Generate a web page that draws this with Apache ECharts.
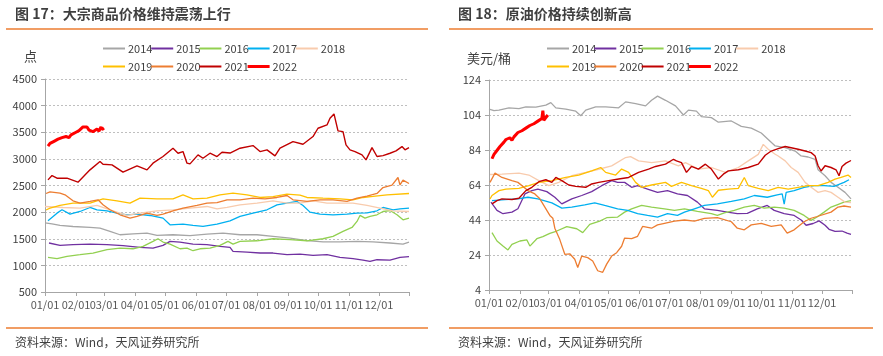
<!DOCTYPE html>
<html><head><meta charset="utf-8">
<script src="https://cdn.jsdelivr.net/npm/echarts@6/dist/echarts.min.js"></script>
<style>html,body{margin:0;padding:0;background:#fff}#c{width:883px;height:356px}</style>
</head><body><div id="c"></div>
<script>
// ---------- categories / ticks ----------
const monthLabels = ['01/01','02/01','03/01','04/01','05/01','06/01','07/01','08/01','09/01','10/01','11/01','12/01'];
const monthDays = [31,28,31,30,31,30,31,31,30,31,30,31];
const years = ['2014','2015','2016','2017','2018','2019','2020','2021','2022'];
const yearColors = ['#A6A6A6','#7030A0','#92D050','#00B0F0','#F8CBAD','#FFC000','#ED7D31','#C00000','#FF0000'];
const leftYTicks = [500, 4500, 500];   // min, max, interval
const rightYTicks = [4, 124, 20];

// ---------- 图17 大宗商品 (day index, value) ----------
const L2014 = [[0,1800],[7,1780],[15,1750],[28,1730],[45,1712],[55,1700],[65,1640],[75,1575],[88,1590],[102,1605],[112,1565],[128,1575],[145,1560],[162,1585],[178,1605],[195,1575],[212,1575],[228,1545],[245,1512],[262,1465],[278,1440],[295,1440],[312,1450],[328,1440],[345,1420],[358,1400],[364,1435]];
const L2015 = [[4,1420],[15,1375],[28,1388],[45,1400],[62,1388],[78,1370],[95,1338],[108,1325],[118,1375],[125,1450],[135,1438],[148,1400],[162,1388],[175,1356],[185,1338],[188,1262],[202,1250],[215,1232],[228,1232],[242,1200],[255,1212],[268,1188],[282,1200],[295,1150],[308,1125],[318,1100],[325,1075],[332,1106],[345,1100],[355,1150],[364,1165]];
const L2016 = [[3,1150],[12,1125],[22,1170],[35,1200],[48,1232],[62,1295],[75,1325],[88,1312],[98,1356],[108,1450],[113,1500],[118,1438],[125,1400],[135,1312],[142,1325],[148,1275],[155,1312],[165,1325],[175,1375],[183,1450],[188,1400],[195,1450],[212,1462],[228,1500],[245,1482],[262,1462],[278,1500],[288,1545],[298,1638],[307,1712],[312,1825],[315,1938],[320,1888],[325,1920],[332,1950],[338,2012],[345,2030],[352,1950],[358,1856],[364,1888]];
const L2017 = [[3,1837],[12,1981],[17,2044],[25,1962],[35,2012],[45,2087],[52,2044],[62,2025],[72,1981],[82,1950],[92,1962],[105,1937],[118,1887],[125,1762],[138,1775],[148,1750],[158,1731],[172,1775],[185,1837],[195,1919],[208,1981],[222,2044],[232,2137],[242,2169],[252,2200],[258,2125],[265,2000],[275,1962],[288,1950],[302,1962],[312,1981],[322,1985],[332,2025],[338,2087],[348,2044],[355,2062],[364,2075]];
const L2018 = [[0,2106],[18,2087],[35,2075],[52,2125],[68,2025],[82,1937],[95,1981],[112,2025],[128,2044],[145,2075],[162,2106],[172,2062],[182,2090],[195,2137],[212,2169],[228,2212],[242,2169],[255,2170],[268,2212],[282,2170],[295,2170],[308,2169],[322,2125],[335,2075],[348,2025],[364,2012]];
const L2019 = [[1,2040],[5,2075],[15,2125],[28,2169],[45,2169],[58,2250],[72,2212],[85,2169],[95,2262],[112,2250],[128,2250],[138,2325],[148,2250],[162,2262],[175,2325],[188,2356],[202,2325],[215,2275],[228,2290],[242,2337],[255,2320],[262,2275],[278,2262],[295,2250],[308,2231],[318,2275],[328,2294],[342,2325],[364,2350]];
const L2020 = [[1,2350],[5,2380],[15,2356],[20,2325],[28,2212],[35,2169],[45,2200],[53,2231],[58,2137],[65,2044],[75,1950],[85,1887],[92,1919],[102,1981],[112,1937],[118,1962],[128,2025],[138,2075],[152,2125],[162,2169],[172,2180],[182,2231],[195,2231],[208,2262],[220,2250],[232,2275],[242,2312],[248,2231],[262,2200],[275,2231],[288,2231],[302,2200],[312,2262],[322,2300],[332,2350],[338,2462],[347,2506],[353,2650],[355,2510],[358,2600],[364,2537]];
const L2021 = [[3,2606],[7,2687],[12,2637],[22,2637],[33,2562],[45,2794],[55,2950],[58,2900],[67,2887],[78,2750],[92,2869],[102,2794],[108,2919],[118,3044],[128,3200],[130,3231],[133,3106],[138,3137],[142,2919],[145,2906],[153,3075],[158,3012],[165,3106],[172,3044],[177,3125],[185,3110],[195,3200],[208,3250],[215,3137],[222,3169],[230,3056],[235,3200],[248,3325],[258,3275],[268,3419],[273,3575],[282,3637],[285,3762],[289,3844],[293,3525],[298,3512],[301,3262],[305,3169],[310,3137],[317,3075],[321,2981],[327,3212],[332,3044],[338,3062],[345,3106],[351,3150],[357,3231],[360,3170],[364,3212]];
const L2022 = [[3,3240],[5,3290],[7,3280],[9,3330],[11,3320],[13,3370],[15,3350],[17,3400],[19,3370],[21,3420],[24,3400],[26,3450],[28,3470],[31,3500],[34,3530],[36,3560],[38,3600],[40,3570],[42,3600],[44,3540],[46,3560],[48,3510],[50,3530],[52,3560],[54,3520],[56,3600],[57,3550],[59,3580]];

// ---------- 图18 原油 (day index, value) ----------
const R2014 = [[0,107.4],[5,106.5],[10,106.8],[20,108.1],[30,107.7],[37,108.7],[47,108.5],[57,109.6],[62,111.1],[67,108.1],[77,107.4],[87,106.2],[92,103.6],[97,106.8],[107,108.7],[117,108.6],[130,108.1],[137,111.5],[147,110.5],[157,109.2],[163,112.4],[169,114.8],[177,112.4],[187,109.2],[195,104],[200,106.8],[208,106.2],[213,103.1],[223,102.5],[230,99.9],[243,100.6],[253,97.5],[263,96.5],[273,93.7],[280,90],[287,86.3],[297,85.3],[307,83.4],[313,80.6],[320,80],[327,78.7],[330,72.7],[337,69.3],[343,65.5],[350,62.7],[357,59.8],[363,56.1]];
const R2015 = [[2,54.2],[8,49.5],[14,47.6],[23,48.5],[29,50.4],[36,58.9],[43,60.8],[49,61.7],[58,60.2],[66,57],[73,53.2],[83,56.1],[93,58],[103,60.2],[113,63.6],[123,66.5],[129,65.5],[136,65.5],[143,62.7],[149,63.6],[159,61.7],[169,59.8],[179,60.8],[189,58.9],[199,58],[209,54.2],[216,50.4],[229,49.5],[239,48.5],[249,47.6],[259,47.8],[269,50.4],[279,52.3],[286,49.5],[296,47.6],[306,46.6],[313,44],[318,41],[325,42],[331,43.5],[337,41],[341,38.7],[347,37.5],[354,37.7],[359,36.5],[363,35.8]];
const R2016 = [[3,36.8],[8,32],[14,29.1],[19,26.9],[23,30.1],[31,32],[38,32.6],[41,29.1],[48,33.3],[54,34.5],[61,36.4],[68,37.7],[78,40.2],[88,39],[94,36.8],[101,41.5],[111,43.4],[118,45.3],[129,45.7],[136,48.5],[143,50.4],[153,52.3],[163,51.4],[176,50.4],[186,49.5],[196,50.4],[209,48.9],[223,47.6],[229,46.6],[236,48.1],[246,49.5],[256,51.4],[266,52.3],[276,50.8],[286,51.4],[296,50.8],[306,49.5],[316,46.6],[323,43.8],[329,45.7],[336,48.5],[343,51.4],[349,52.7],[356,54.2],[363,55.1]];
const R2017 = [[3,55.1],[16,55.7],[29,56.1],[39,57],[49,56.1],[63,53.8],[73,50.8],[83,51.4],[96,52.7],[106,53.8],[116,52.3],[129,50.4],[139,49.5],[149,47.6],[159,46.6],[169,45.7],[179,47.6],[189,46.6],[196,48.5],[206,50.4],[216,52.3],[229,53.2],[243,54.6],[256,56.1],[266,58],[279,57],[289,58.3],[294,58.9],[296,53],[298,59.8],[306,60.8],[316,62.7],[326,63.6],[336,63.6],[346,63.2],[356,65.5],[361,67]];
const R2018 = [[1,70],[13,70.2],[30,70.8],[40,69.7],[50,66.5],[60,63.6],[70,65.5],[83,69.3],[97,71.2],[110,73],[123,74.9],[137,79.7],[142,80.2],[150,77.8],[163,76.8],[177,77.8],[190,74.9],[197,76.8],[210,73.1],[223,74],[237,71.2],[250,74],[260,77.8],[270,81.5],[275,87.2],[280,84.4],[287,81.6],[290,80.6],[297,77.8],[303,74],[310,71.2],[317,65.5],[323,62.7],[330,59.8],[337,60.8],[343,59.8],[350,57],[357,54.2],[363,54]];
const R2019 = [[1,56],[3,58],[10,60.8],[17,61.7],[30,62.1],[40,63.6],[50,65.5],[63,66.5],[77,68.3],[90,69.7],[103,72.1],[112,74],[117,71.2],[127,69.7],[133,73.1],[140,71.2],[147,65.5],[153,62.7],[163,64],[177,65.5],[183,63.2],[193,65.5],[203,63.6],[213,62.1],[220,60.8],[224,57],[230,61],[240,61.7],[250,62.1],[256,68.3],[260,63.6],[270,62.1],[280,60.8],[290,62.7],[300,61.7],[310,62.7],[320,63.6],[330,63.6],[340,65.5],[347,67.4],[353,68.3],[360,69.7],[363,68.3]];
const R2020 = [[1,65.5],[6,70.8],[13,68.3],[23,66.5],[29,65.5],[39,60.8],[46,58.9],[51,56.1],[56,51.4],[61,46.6],[64,45],[66,39.3],[71,32.8],[76,24.4],[81,24.7],[86,21.6],[89,16.9],[93,23.4],[99,22.5],[104,20.6],[109,15],[114,14.1],[118,18.8],[123,23.4],[128,25.3],[133,29],[136,33.7],[143,33.3],[149,34.7],[154,40.3],[163,39.3],[169,41.2],[176,42.1],[186,43.4],[196,44],[206,43.4],[216,44.9],[229,45.3],[243,43],[249,39.3],[256,38.4],[263,41.2],[273,42.1],[283,40.3],[293,41.2],[299,36.5],[306,38.4],[316,43],[323,45],[329,46],[343,48.5],[350,51.4],[356,52],[363,51.4]];
const R2021 = [[3,53.2],[5,52.3],[8,55.1],[13,56.1],[23,55.7],[30,56.4],[37,60.8],[43,62.7],[50,65.9],[57,67],[63,65.5],[67,68.3],[73,66.5],[80,64],[87,63.2],[97,62.7],[103,64.6],[110,65.5],[120,66.5],[130,67.4],[140,68.3],[150,71.2],[160,73.1],[167,74.6],[177,75.9],[185,78.7],[188,77.8],[193,76.8],[198,71.2],[203,74.6],[210,73.1],[217,75.9],[223,73.1],[230,67.4],[235,70.2],[240,72.1],[250,72.7],[260,74],[270,75.9],[277,81],[283,83.4],[290,84.8],[297,86],[303,85.3],[310,84.4],[317,83.4],[323,82.5],[327,80.6],[330,75],[333,72],[337,75],[343,74],[348,72.7],[351,69.3],[354,74.6],[358,76.5],[363,78]];
const R2022 = [[3,79],[5,81.5],[7,83],[9,84],[11,86],[13,87],[15,88.5],[17,90],[19,89],[21,91],[23,89.5],[25,91.5],[27,92.5],[29,94],[31,93],[33,95],[35,94],[37,96.5],[39,96],[41,98],[43,97],[45,99],[47,98],[49,100.5],[51,99.5],[53,102],[54,106.5],[55,101],[57,102.5],[59,104]];

const leftData = [L2014,L2015,L2016,L2017,L2018,L2019,L2020,L2021,L2022];
const rightData = [R2014,R2015,R2016,R2017,R2018,R2019,R2020,R2021,R2022];

// ---------- build ----------
const categories = [];
monthDays.forEach((n, m) => { for (let d = 1; d <= n; d++) categories.push(String(m+1).padStart(2,'0') + '/' + String(d).padStart(2,'0')); });
const FONT = '"Noto Sans CJK SC", "Microsoft YaHei", sans-serif';
const isLabelDay = (i, v) => monthLabels.indexOf(v) >= 0;
const isTickDay = (i, v) => monthLabels.indexOf(v) >= 0 || i === categories.length - 1;

function xAxisFor(gi) {
  return {
    type: 'category', gridIndex: gi, data: categories, boundaryGap: false,
    axisLine: { lineStyle: { color: '#A6A6A6', width: 1 } },
    axisTick: { show: true, interval: isTickDay, length: 4, lineStyle: { color: '#A6A6A6' } },
    axisLabel: { interval: isLabelDay, color: '#595959', fontSize: 11, margin: 7, fontFamily: FONT },
    splitLine: { show: false }
  };
}
function yAxisFor(gi, t) {
  return {
    type: 'value', gridIndex: gi, min: t[0], max: t[1], interval: t[2],
    axisLine: { show: true, lineStyle: { color: '#A6A6A6', width: 1 } },
    axisTick: { show: true, length: 4, lineStyle: { color: '#A6A6A6' } },
    axisLabel: { color: '#404040', fontSize: 11, margin: 8, fontFamily: FONT, formatter: v => String(v) },
    splitLine: { show: true, lineStyle: { color: '#BFBFBF', type: [2, 2], width: 1 } }
  };
}
const series = [];
[leftData, rightData].forEach((set, gi) => {
  set.forEach((arr, i) => {
    series.push({
      name: years[i], type: 'line', xAxisIndex: gi, yAxisIndex: gi,
      data: arr, showSymbol: false, symbol: 'none', animation: false,
      lineStyle: { color: yearColors[i], width: i === 8 ? 3 : (i === 7 ? 1.4 : 1.3) },
      itemStyle: { color: yearColors[i] }, z: 2 + i
    });
  });
});
const legends = [];
[[103, 48.2], [547, 47.3]].forEach(([x0, step]) => {
  years.forEach((y, i) => {
    const row = i < 5 ? 0 : 1, col = i < 5 ? i : i - 5;
    legends.push({
      data: [y], left: x0 + col * step, top: row === 0 ? 43 : 61,
      icon: 'rect', itemWidth: 22, itemHeight: i === 8 ? 3 : 2, padding: 0,
      textStyle: { color: '#404040', fontSize: 11, fontFamily: FONT, padding: [0, 0, 0, -2] },
      selectedMode: false
    });
  });
});

const graphic = [
  { type: 'text', left: 15, top: 7, style: { text: '图 17：大宗商品价格维持震荡上行', font: 'bold 14px ' + FONT, fill: '#3F3F3F' } },
  { type: 'text', left: 458, top: 7, style: { text: '图 18：原油价格持续创新高', font: 'bold 14px ' + FONT, fill: '#3F3F3F' } },
  { type: 'line', shape: { x1: 6, y1: 29, x2: 428, y2: 29 }, style: { stroke: '#ED7D31', lineWidth: 1.5 } },
  { type: 'line', shape: { x1: 449, y1: 29, x2: 873, y2: 29 }, style: { stroke: '#ED7D31', lineWidth: 1.5 } },
  { type: 'line', shape: { x1: 6, y1: 328, x2: 428, y2: 328 }, style: { stroke: '#ED7D31', lineWidth: 1.5 } },
  { type: 'line', shape: { x1: 449, y1: 328, x2: 873, y2: 328 }, style: { stroke: '#ED7D31', lineWidth: 1.5 } },
  { type: 'text', left: 15, top: 336, style: { text: '资料来源：Wind，天风证券研究所', font: '12px ' + FONT, fill: '#404040' } },
  { type: 'text', left: 458, top: 336, style: { text: '资料来源：Wind，天风证券研究所', font: '12px ' + FONT, fill: '#404040' } },
  { type: 'text', left: 24, top: 50, style: { text: '点', font: '13px ' + FONT, fill: '#404040' } },
  { type: 'text', left: 467, top: 52, style: { text: '美元/桶', font: '13px ' + FONT, fill: '#404040' } }
];

const chart = echarts.init(document.getElementById('c'), null, { renderer: 'canvas' });
chart.setOption({
  animation: false,
  backgroundColor: '#ffffff',
  textStyle: { fontFamily: FONT },
  grid: [
    { left: 45, top: 79, width: 364, height: 213 },
    { left: 489, top: 80, width: 363, height: 210 }
  ],
  xAxis: [xAxisFor(0), xAxisFor(1)],
  yAxis: [yAxisFor(0, leftYTicks), yAxisFor(1, rightYTicks)],
  legend: legends,
  series: series,
  graphic: graphic
});
</script></body></html>
